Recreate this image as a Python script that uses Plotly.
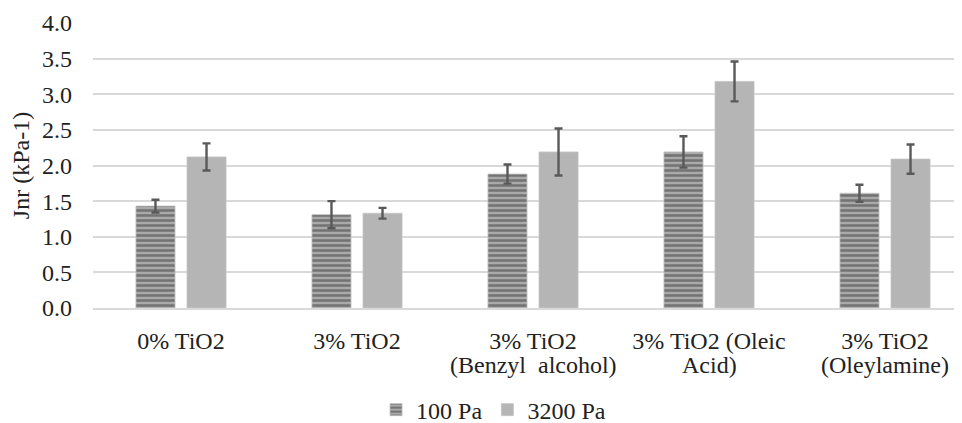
import plotly.graph_objects as go

categories = ["0% TiO2", "3% TiO2", "3% TiO2", "3% TiO2 (Oleic", "3% TiO2"]
category_line2 = ["", "", "(Benzyl\u00a0\u00a0alcohol)", "Acid)", "(Oleylamine)"]
series_names = ["100 Pa", "3200 Pa"]
jnr_100 = [1.43, 1.31, 1.88, 2.19, 1.61]
err_100 = [0.09, 0.19, 0.135, 0.22, 0.12]
jnr_3200 = [2.12, 1.33, 2.19, 3.18, 2.09]
err_3200 = [0.19, 0.075, 0.33, 0.28, 0.205]
y_ticks = [0.0, 0.5, 1.0, 1.5, 2.0, 2.5, 3.0, 3.5, 4.0]

FONT = "Liberation Serif, Times New Roman, serif"
FS = 24
TXT = "#222222"
err_style = dict(type="data", color="#595959", thickness=2.4, width=4)

xpos = list(range(len(categories)))

fig = go.Figure()
fig.add_trace(go.Bar(
    name=series_names[0], x=xpos, y=jnr_100,
    error_y=dict(array=err_100, **err_style),
    marker=dict(color="#a6a6a6",
                pattern=dict(shape="-", fgcolor="#727272", bgcolor="#a9a9a9",
                             size=5, solidity=0.5, fillmode="replace"),
                line=dict(color="#bdbdbd", width=0.8)),
))
fig.add_trace(go.Bar(
    name=series_names[1], x=xpos, y=jnr_3200,
    error_y=dict(array=err_3200, **err_style),
    marker=dict(color="#b5b5b5", line=dict(color="#c4c4c4", width=0.8)),
))

for i, t in enumerate(category_line2):
    if t:
        fig.add_annotation(x=i, y=-0.2, xref="x", yref="paper", text=t,
                           showarrow=False, xanchor="center", yanchor="middle",
                           font=dict(family=FONT, size=FS, color=TXT))

fig.update_layout(
    width=954, height=415,
    margin=dict(l=85, r=0, t=15, b=114.5, autoexpand=False),
    paper_bgcolor="white", plot_bgcolor="white",
    barmode="group", bargap=0.42, bargroupgap=0.235,
    font=dict(family=FONT, size=FS, color=TXT),
    showlegend=True,
    legend=dict(orientation="h", x=0.3257, xanchor="left", y=-0.358, yanchor="middle",
                font=dict(family=FONT, size=FS, color=TXT),
                traceorder="normal", itemwidth=30),
)
fig.update_xaxes(
    range=[-0.5, 4.4375], tickvals=xpos, ticktext=categories,
    showgrid=False, showline=True, linecolor="#d9d9d9", linewidth=1.5,
    zeroline=False, ticks="", ticklabelstandoff=10,
    tickfont=dict(family=FONT, size=FS, color=TXT),
)
fig.update_yaxes(
    range=[0, 4.0], tickvals=y_ticks, ticktext=[f"{v:.1f}" for v in y_ticks],
    showgrid=True, gridcolor="#d9d9d9", gridwidth=1.5,
    zeroline=False, showline=False, ticks="", ticklabelstandoff=20,
    tickfont=dict(family=FONT, size=FS, color=TXT),
    title=dict(text="Jnr (kPa-1)", standoff=16,
               font=dict(family=FONT, size=FS, color=TXT)),
)

fig.write_html("out.html")
